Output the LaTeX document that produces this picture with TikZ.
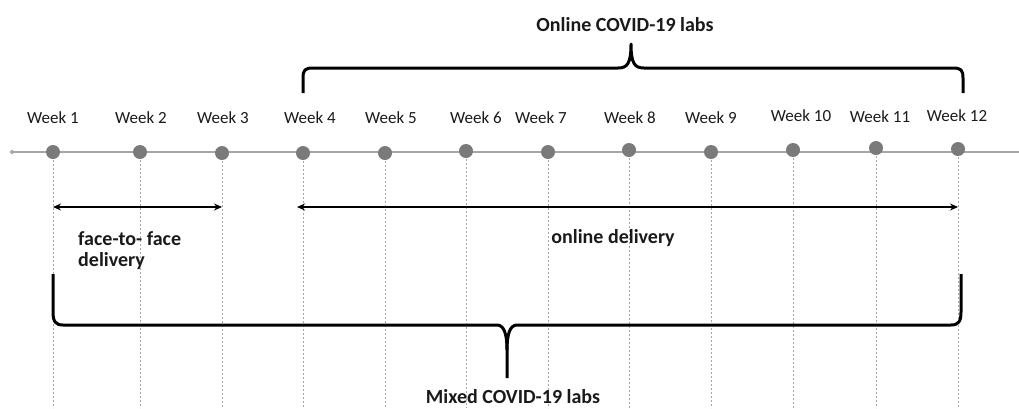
\documentclass[tikz,border=0pt]{standalone}
\usepackage{fontspec}
\setmainfont{Carlito}
\usetikzlibrary{arrows.meta,shapes.geometric}
\definecolor{dotgray}{HTML}{7A7A7A}
\definecolor{linegray}{HTML}{A6A6A6}
\definecolor{txt}{HTML}{1A1A1A}
\tikzset{
  wk/.style={font=\fontsize{17}{19}\selectfont, text=txt, inner sep=0pt},
  big/.style={font=\fontsize{20}{21}\selectfont\bfseries, text=txt, inner sep=0pt},
  dot/.style={circle, fill=dotgray, minimum size=14pt, inner sep=0pt},
  guide/.style={linegray, line width=0.6pt, dash pattern=on 2pt off 2pt},
  span/.style={line width=2.4pt, {Stealth[length=8pt,width=7pt]}-{Stealth[length=8pt,width=7pt]}},
  brace/.style={line width=3pt, line join=round}
}
\begin{document}
\begin{tikzpicture}[x=1pt,y=-1pt]
\useasboundingbox (0,0) rectangle (1019,408);
% timeline
\coordinate (tlstart) at (12,152);
\coordinate (tlend) at (1019,152);
\draw[linegray, line width=1.5pt] (tlstart) -- (tlend);
\node[diamond, fill=linegray, minimum size=5pt, inner sep=0pt] at (tlstart) {};
% weeks
\foreach \i/\lx/\ly/\dx/\dy in {1/53/118/53/152, 2/141/118/140/152, 3/223/118/222/153, 4/310/118/303/153, 5/391/118/385/153, 6/476/118/466/151, 7/541/118/548/152, 8/630/118/629/150, 9/711/118/711/152, 10/801/116/793/150, 11/880/117/876/148, 12/957/116/958/149}{
  \node[wk] (w\i) at (\lx,\ly) {Week \i};
  \coordinate (g\i) at (\dx,408);
  \draw[guide] (\dx,\dy) -- (g\i);
  \node[dot] (d\i) at (\dx,\dy) {};
}
% arrows
\coordinate (a1) at (53,207);
\coordinate (a2) at (222,207);
\coordinate (b1) at (297,207);
\coordinate (b2) at (958,207);
\draw[span] (a1) -- (a2);
\draw[span] (b1) -- (b2);
\node[big, align=left, anchor=north west] (ftf) at (78,231) {face-to- face\\delivery};
\node[big] (onl) at (613,238) {online delivery};
% top brace
\node[big] (top) at (625,25) {Online COVID-19 labs};
\coordinate (tl) at (303,93);
\coordinate (tr) at (963,93);
\coordinate (tc) at (631,44);
\draw[brace] (tl) -- (303,78) .. controls (303,70) and (305,68) .. (313,68) -- (618,68) .. controls (627,68) and (631,64) .. (tc)
  .. controls (631,64) and (635,68) .. (644,68) -- (953,68) .. controls (961,68) and (963,70) .. (963,78) -- (tr);
% bottom brace
\node[big] (bot) at (513,397) {Mixed COVID-19 labs};
\coordinate (bl) at (53,274);
\coordinate (br) at (961,274);
\coordinate (bc) at (507,378);
\draw[brace] (bl) -- (53,312) .. controls (53,322) and (56,325) .. (63,325) -- (497,325) .. controls (504,325) and (507,334) .. (507,350) -- (bc);
\draw[brace] (507,350) .. controls (507,334) and (510,325) .. (517,325) -- (951,325) .. controls (958,325) and (961,322) .. (961,312) -- (br);
\end{tikzpicture}
\end{document}
